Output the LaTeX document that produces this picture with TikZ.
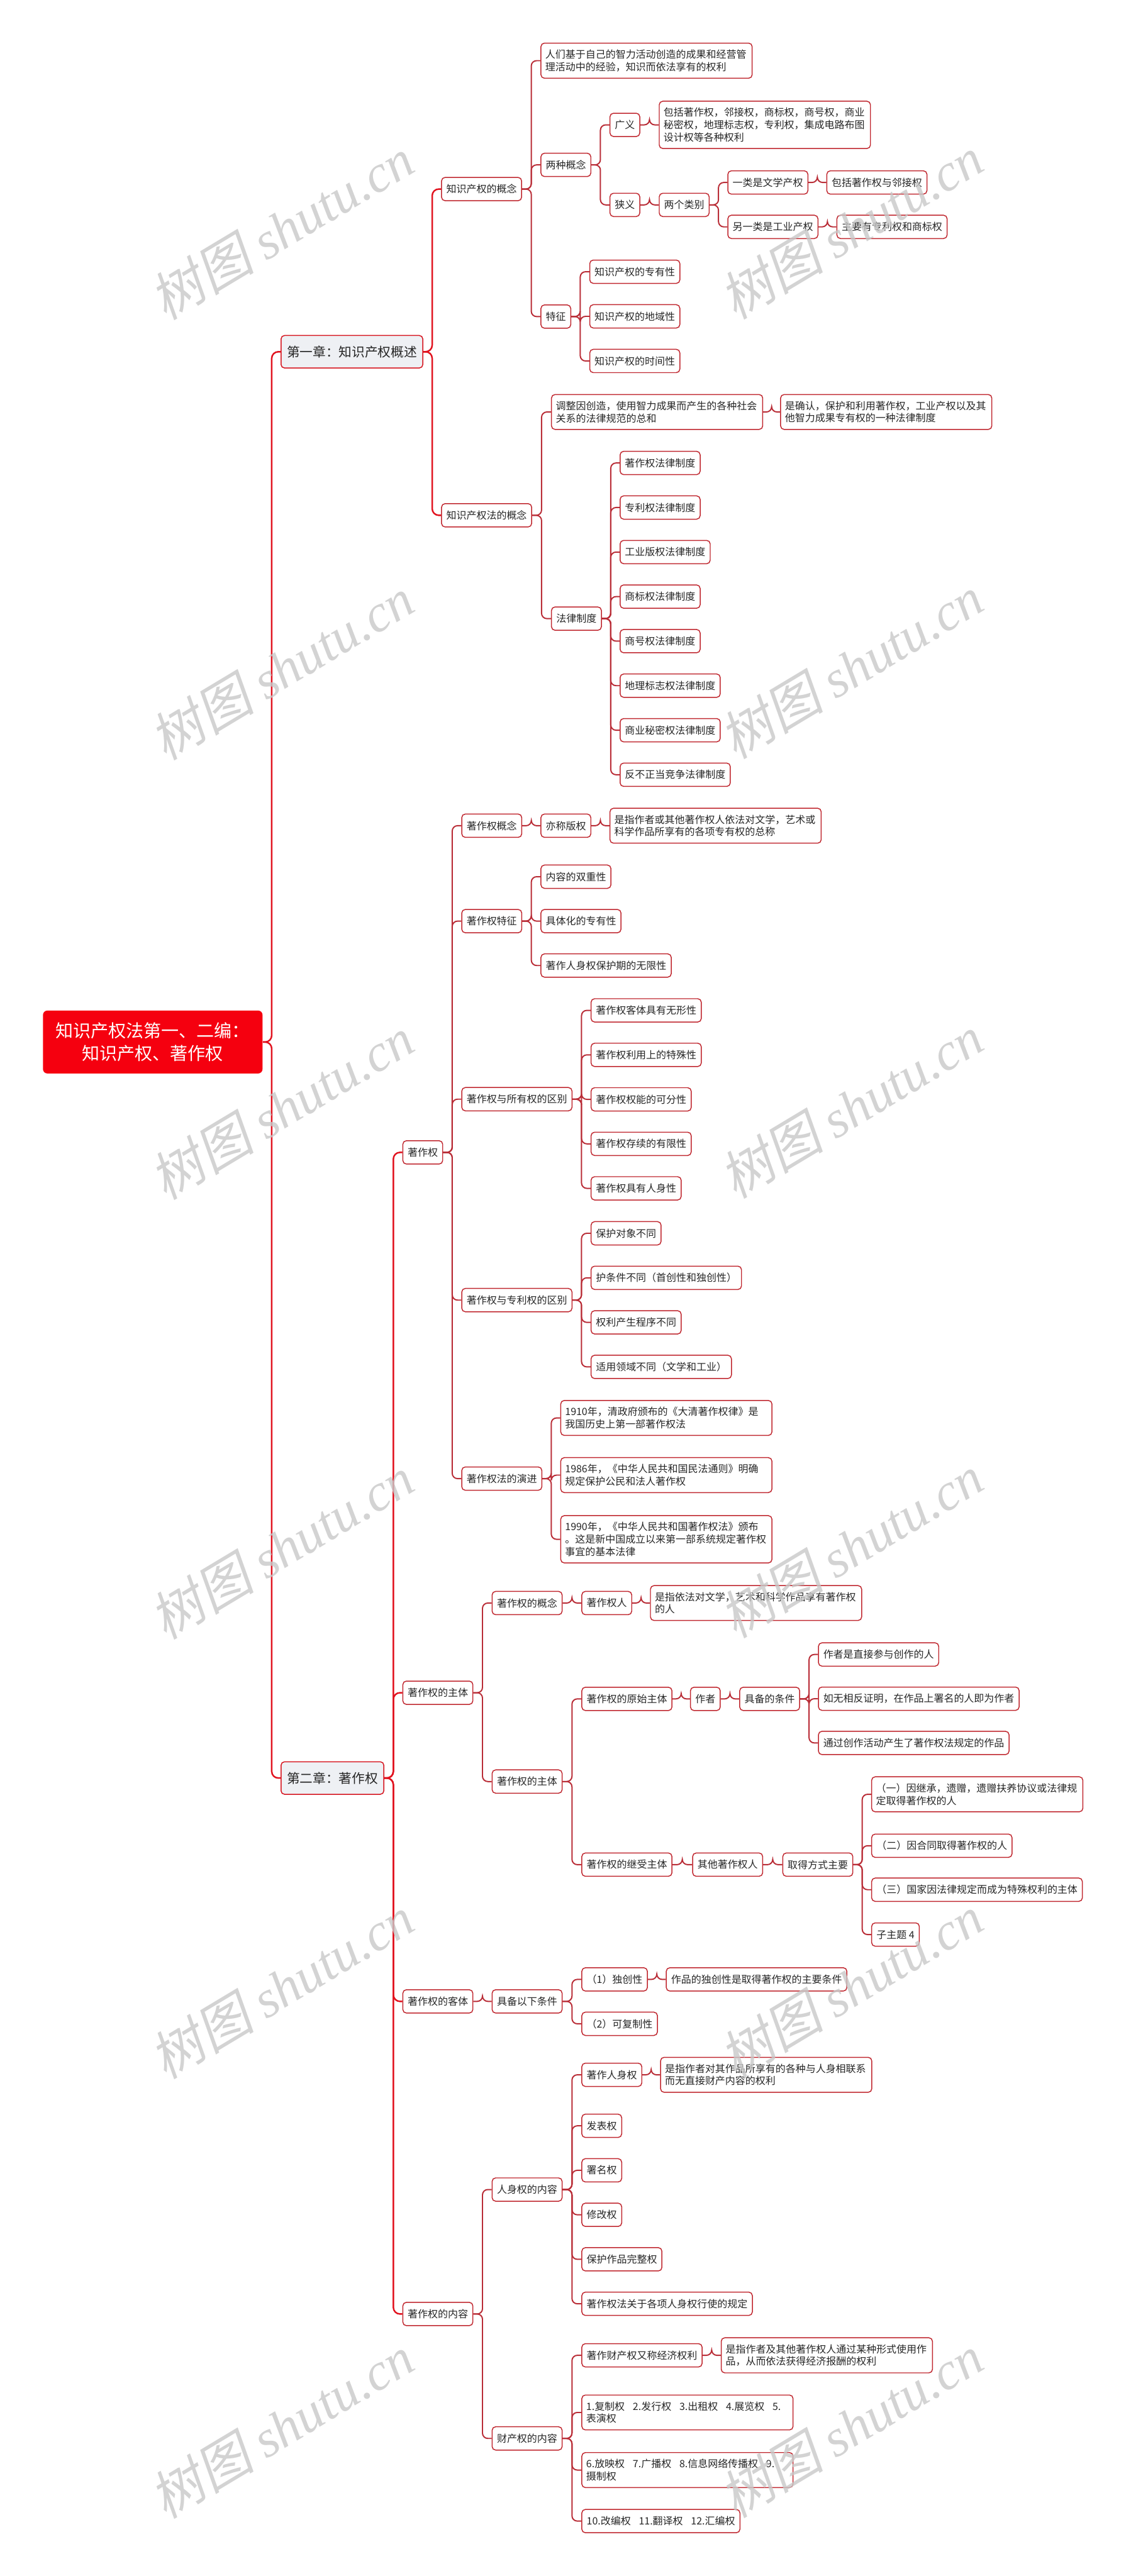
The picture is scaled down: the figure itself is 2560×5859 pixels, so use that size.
\documentclass[tikz,border=0pt]{standalone}
\usepackage{fontspec}
\setmainfont{Noto Sans CJK SC}
\newfontfamily\wmlatin{Liberation Serif}
\newfontfamily\wmcjk[FakeSlant=0.2]{Noto Sans CJK SC}
\usetikzlibrary{calc}

\definecolor{rootred}{RGB}{245,0,15}
\definecolor{chapred}{RGB}{214,20,30}
\definecolor{chapfill}{RGB}{238,240,244}
\definecolor{nodered}{RGB}{192,40,48}
\definecolor{linkred}{RGB}{185,45,55}
\definecolor{trunkred}{RGB}{225,18,30}
\definecolor{wmgray}{RGB}{200,200,200}

\tikzset{
  leaf/.style={draw=nodered, line width=0.6pt, rounded corners=0.08cm, fill=white,
    text=black!85, font=\fontsize{6.5}{8}\selectfont, inner xsep=0.11cm,
    inner ysep=0.15cm, minimum height=0.53cm, anchor=west},
  desc/.style={leaf, text width=4.6cm, align=left, inner xsep=0.1cm},
  chap/.style={leaf, draw=chapred, fill=chapfill, font=\fontsize{8.4}{10}\selectfont,
    inner xsep=0.135cm, minimum height=0.74cm},
  rootbox/.style={fill=rootred, text=white, rounded corners=0.1cm,
    font=\fontsize{11.4}{14.8}\selectfont, align=center, minimum width=4.99cm,
    minimum height=1.43cm, anchor=west},
  link/.style={draw=linkred, line width=0.8pt, rounded corners=0.12cm},
  trunk/.style={draw=trunkred, line width=1pt, rounded corners=0.15cm},
  wm/.style={rotate=31, text=wmgray, text opacity=0.8, font=\fontsize{34}{34}\selectfont}
}

\newcommand\conn[3][link]{\draw[#1] (#2.east) -- ($(#2.east)!0.5!(#3.west |- #2.east)$) |- (#3.west);}

\begin{document}
\begin{tikzpicture}[x=0.01cm,y=-0.01cm]
  \useasboundingbox (0,0) rectangle (2560,5859);
  \node[rootbox] (root) at (97,2370) {知识产权法第一、二编：\\知识产权、著作权};
  \node[chap] (ch1) at (638,800) {第一章：知识产权概述};
  \node[chap] (ch2) at (638,4044) {第二章：著作权};
  \conn[trunk]{root}{ch1}
  \conn[trunk]{root}{ch2}

  \node[leaf] (gn) at (1003,430) {知识产权的概念};
  \node[leaf] (fgn) at (1003,1172) {知识产权法的概念};
  \conn[trunk]{ch1}{gn}
  \conn[trunk]{ch1}{fgn}

  \node[desc] (gndef) at (1229,138) {人们基于自己的智力活动创造的成果和经营管\\理活动中的经验，知识而依法享有的权利};
  \node[leaf] (lzgn) at (1229,375) {两种概念};
  \node[leaf] (tz) at (1229,720) {特征};
  \foreach \nd in {gndef,lzgn,tz} {\conn{gn}{\nd}}

  \node[leaf] (gy) at (1386,284) {广义};
  \node[desc] (gydef) at (1498,284) {包括著作权，邻接权，商标权，商号权，商业\\秘密权，地理标志权，专利权，集成电路布图\\设计权等各种权利};
  \node[leaf] (xy) at (1386,466) {狭义};
  \node[leaf] (lglb) at (1498,466) {两个类别};
  \node[leaf] (wxcq) at (1654,415) {一类是文学产权};
  \node[leaf] (wxcqx) at (1879,415) {包括著作权与邻接权};
  \node[leaf] (gycq) at (1654,516) {另一类是工业产权};
  \node[leaf] (gycqx) at (1902,516) {主要有专利权和商标权};
  \conn{lzgn}{gy} \conn{lzgn}{xy} \conn{gy}{gydef} \conn{xy}{lglb}
  \conn{lglb}{wxcq} \conn{lglb}{gycq} \conn{wxcq}{wxcqx} \conn{gycq}{gycqx}

  \foreach \txt [count=\i] in {知识产权的专有性,知识产权的地域性,知识产权的时间性}
    {\node[leaf] (tz\i) at (1340,{618+101.5*(\i-1)}) {\txt}; \conn{tz}{tz\i}}

  \node[desc] (tzdef) at (1253,937) {调整因创造，使用智力成果而产生的各种社会\\关系的法律规范的总和};
  \node[desc] (tzdefx) at (1774,937) {是确认，保护和利用著作权，工业产权以及其\\他智力成果专有权的一种法律制度};
  \node[leaf] (flzd) at (1253,1407) {法律制度};
  \conn{fgn}{tzdef} \conn{tzdef}{tzdefx} \conn{fgn}{flzd}
  \foreach \txt [count=\i] in {著作权法律制度,专利权法律制度,工业版权法律制度,商标权法律制度,商号权法律制度,地理标志权法律制度,商业秘密权法律制度,反不正当竞争法律制度}
    {\node[leaf] (fl\i) at (1409,{1053+101.3*(\i-1)}) {\txt}; \conn{flzd}{fl\i}}

  \node[leaf] (zzq) at (915,2621) {著作权};
  \node[leaf] (zt) at (915,3850) {著作权的主体};
  \node[leaf] (kt) at (915,4552) {著作权的客体};
  \node[leaf] (nr) at (915,5263) {著作权的内容};
  \foreach \nd in {zzq,zt,kt,nr} {\conn[trunk]{ch2}{\nd}}

  \node[leaf] (zgn) at (1049,1878) {著作权概念};
  \node[leaf] (ycbq) at (1229,1878) {亦称版权};
  \node[desc] (ycbqx) at (1386,1878) {是指作者或其他著作权人依法对文学，艺术或\\科学作品所享有的各项专有权的总称};
  \node[leaf] (ztz) at (1049,2095) {著作权特征};
  \node[leaf] (syq) at (1049,2500) {著作权与所有权的区别};
  \node[leaf] (zlq) at (1049,2957) {著作权与专利权的区别};
  \node[leaf] (yj) at (1049,3363) {著作权法的演进};
  \foreach \nd in {zgn,ztz,syq,zlq,yj} {\conn{zzq}{\nd}}
  \conn{zgn}{ycbq} \conn{ycbq}{ycbqx}
  \foreach \txt [count=\i] in {内容的双重性,具体化的专有性,著作人身权保护期的无限性}
    {\node[leaf] (ztz\i) at (1229,{1994+101*(\i-1)}) {\txt}; \conn{ztz}{ztz\i}}
  \foreach \txt [count=\i] in {著作权客体具有无形性,著作权利用上的特殊性,著作权权能的可分性,著作权存续的有限性,著作权具有人身性}
    {\node[leaf] (syq\i) at (1343,{2298+101.2*(\i-1)}) {\txt}; \conn{syq}{syq\i}}
  \foreach \txt [count=\i] in {保护对象不同,护条件不同（首创性和独创性）,权利产生程序不同,适用领域不同（文学和工业）}
    {\node[leaf] (zlq\i) at (1343,{2805+101.3*(\i-1)}) {\txt}; \conn{zlq}{zlq\i}}
  \node[desc] (yj1) at (1274,3225) {1910年，清政府颁布的《大清著作权律》是\\我国历史上第一部著作权法};
  \node[desc] (yj2) at (1274,3355) {1986年，《中华人民共和国民法通则》明确\\规定保护公民和法人著作权};
  \node[desc] (yj3) at (1274,3501) {1990年，《中华人民共和国著作权法》颁布\\。这是新中国成立以来第一部系统规定著作权\\事宜的基本法律};
  \foreach \nd in {yj1,yj2,yj3} {\conn{yj}{\nd}}

  \node[leaf] (zgn2) at (1118,3646) {著作权的概念};
  \node[leaf] (zqr) at (1322,3646) {著作权人};
  \node[desc] (zqrx) at (1478,3646) {是指依法对文学，艺术和科学作品享有著作权\\的人};
  \node[leaf] (zt2) at (1118,4052) {著作权的主体};
  \conn{zt}{zgn2} \conn{zt}{zt2} \conn{zgn2}{zqr} \conn{zqr}{zqrx}
  \node[leaf] (ysz) at (1322,3864) {著作权的原始主体};
  \node[leaf] (zz) at (1569,3864) {作者};
  \node[leaf] (jbtj) at (1681,3864) {具备的条件};
  \conn{zt2}{ysz} \conn{ysz}{zz} \conn{zz}{jbtj}
  \foreach \txt [count=\i] in {作者是直接参与创作的人,如无相反证明，在作品上署名的人即为作者,通过创作活动产生了著作权法规定的作品}
    {\node[leaf] (tj\i) at (1860,{3763+100.6*(\i-1)}) {\txt}; \conn{jbtj}{tj\i}}
  \node[leaf] (jsz) at (1322,4241) {著作权的继受主体};
  \node[leaf] (qtzqr) at (1574,4241) {其他著作权人};
  \node[leaf] (qdfs) at (1779,4241) {取得方式主要};
  \conn{zt2}{jsz} \conn{jsz}{qtzqr} \conn{qtzqr}{qdfs}
  \node[desc] (qd1) at (1981,4081) {（一）因继承，遗赠，遗赠扶养协议或法律规\\定取得著作权的人};
  \node[leaf] (qd2) at (1981,4198) {（二）因合同取得著作权的人};
  \node[leaf] (qd3) at (1981,4298) {（三）国家因法律规定而成为特殊权利的主体};
  \node[leaf] (qd4) at (1981,4400) {子主题 4};
  \foreach \nd in {qd1,qd2,qd3,qd4} {\conn{qdfs}{\nd}}

  \node[leaf] (jbyx) at (1118,4552) {具备以下条件};
  \node[leaf] (dcx) at (1322,4502) {（1）独创性};
  \node[leaf] (dcxx) at (1514,4502) {作品的独创性是取得著作权的主要条件};
  \node[leaf] (kfz) at (1322,4603) {（2）可复制性};
  \conn{kt}{jbyx} \conn{jbyx}{dcx} \conn{jbyx}{kfz} \conn{dcx}{dcxx}

  \node[leaf] (rsq) at (1118,4980) {人身权的内容};
  \node[leaf] (ccq) at (1118,5546) {财产权的内容};
  \conn{nr}{rsq} \conn{nr}{ccq}
  \node[leaf] (zrsq) at (1322,4719) {著作人身权};
  \node[desc] (zrsqx) at (1501,4719) {是指作者对其作品所享有的各种与人身相联系\\而无直接财产内容的权利};
  \conn{rsq}{zrsq} \conn{zrsq}{zrsqx}
  \foreach \txt [count=\i] in {发表权,署名权,修改权,保护作品完整权,著作权法关于各项人身权行使的规定}
    {\node[leaf] (rs\i) at (1322,{4835+101.2*(\i-1)}) {\txt}; \conn{rsq}{rs\i}}
  \node[leaf] (zccq) at (1322,5357) {著作财产权又称经济权利};
  \node[desc] (zccqx) at (1639,5357) {是指作者及其他著作权人通过某种形式使用作\\品，从而依法获得经济报酬的权利};
  \node[desc] (cc1) at (1322,5487) {1.复制权\hspace{0.8em}2.发行权\hspace{0.8em}3.出租权\hspace{0.8em}4.展览权\hspace{0.8em}5.\\表演权};
  \node[desc] (cc2) at (1322,5618) {6.放映权\hspace{0.8em}7.广播权\hspace{0.8em}8.信息网络传播权\hspace{0.8em}9.\\摄制权};
  \node[leaf] (cc3) at (1322,5734) {10.改编权\hspace{0.8em}11.翻译权\hspace{0.8em}12.汇编权};
  \conn{zccq}{zccqx}
  \foreach \nd in {zccq,cc1,cc2,cc3} {\conn{ccq}{\nd}}

  \foreach \k in {0,...,5} {
    \node[wm] (wma\k) at (640,{520+1000*\k}) {{\wmcjk 树图} {\wmlatin\itshape shutu.cn}};
    \node[wm] (wmb\k) at (1935,{518+1000*\k}) {{\wmcjk 树图} {\wmlatin\itshape shutu.cn}};
  }
\end{tikzpicture}
\end{document}
